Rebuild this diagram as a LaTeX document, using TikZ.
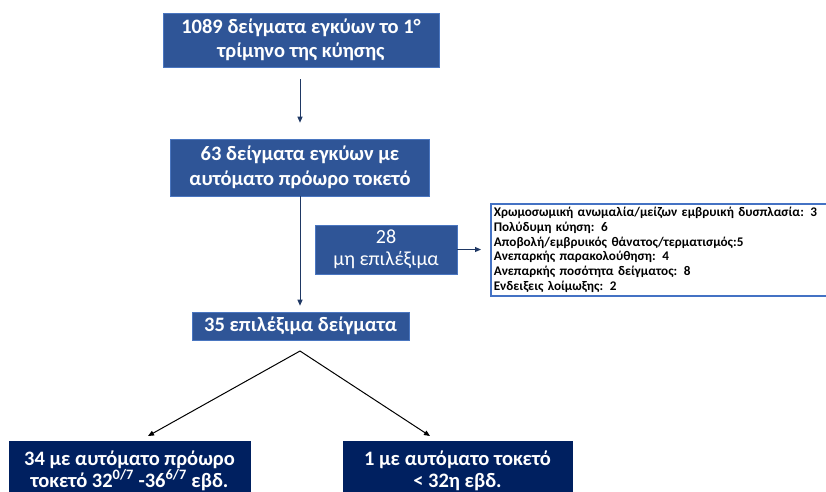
\documentclass[tikz,border=0pt]{standalone}
\usepackage{fontspec}
\setmainfont{Carlito}
\usepackage{xcolor}
\usepackage{tikz}
\usetikzlibrary{arrows.meta, positioning}

\definecolor{boxblue}{HTML}{2F5597}
\definecolor{boxedge}{HTML}{4A76C0}
\definecolor{darknavy}{HTML}{002060}
\definecolor{arrowblue}{HTML}{1F3864}
\definecolor{listedge}{HTML}{4472C4}

\tikzset{
	stage/.style={fill=boxblue, draw=boxedge, line width=0.6pt, text=white, align=center, inner sep=0pt,
		font=\bfseries\fontsize{20.5}{24.5}\selectfont},
	outcome/.style={stage, fill=darknavy, draw=darknavy},
	flow/.style={-{Triangle[length=6pt, width=5pt]}, line width=1pt, arrowblue},
	branch/.style={-{Triangle[length=6pt, width=5pt]}, line width=1pt, black}
}

\begin{document}
\begin{tikzpicture}[x=1pt, y=-1pt]
				\useasboundingbox (0,0) rectangle (826,491);
				% Boxes:
				\node[stage, minimum width=276pt, minimum height=54pt](samples) at (301,40){1089 δείγματα εγκύων το 1°\\τρίμηνο της κύησης};
				\node[stage, minimum width=259pt, minimum height=57pt](preterm) at (300,167.5){63 δείγματα εγκύων με\\αυτόματο πρόωρο τοκετό};
				\node[stage, minimum width=142pt, minimum height=49pt, font=\fontsize{20}{22}\selectfont](excluded) at (386,249.5){28\\μη επιλέξιμα};
				\node[draw=listedge, line width=1.5pt, fill=white, anchor=north west, text width=336pt, inner xsep=3pt, minimum height=86pt, align=left, font=\bfseries\fontsize{13.2}{14.8}\selectfont](reasons) at (490,203){Χρωμοσωμική ανωμαλία/μείζων εμβρυική δυσπλασία: 3\\Πολύδυμη κύηση: 6\\Αποβολή/εμβρυικός θάνατος/τερματισμός:5\\Ανεπαρκής παρακολούθηση: 4\\Ανεπαρκής ποσότητα δείγματος: 8\\Ενδειξεις λοίμωξης: 2};
				\node[stage, minimum width=217pt, minimum height=28pt](eligible) at (300.5,326){35 επιλέξιμα δείγματα};
				\node[outcome, minimum width=241pt, minimum height=58pt, font=\bfseries\fontsize{20.5}{22}\selectfont](late) at (129.5,470.5){34 με αυτόματο πρόωρο\\τοκετό 32\textsuperscript{0/7} -36\textsuperscript{6/7} εβδ.};
				\node[outcome, minimum width=229pt, minimum height=58pt, font=\bfseries\fontsize{20.5}{22}\selectfont](early) at (457.5,470.5){1 με αυτόματο τοκετό\\< 32η εβδ.};
				% Arrows:
				\coordinate (fork) at (300,351);
				\coordinate (tipL) at (148,436);
				\coordinate (tipR) at (430,436);
				\draw[flow] ([yshift=-12pt]samples.south -| preterm) -- ([yshift=16pt]preterm.north);
				\draw[flow] (preterm.south) -- ([yshift=6pt]eligible.north -| preterm);
				\draw[flow, shorten >=9pt] (excluded.east) -- (excluded.east -| reasons.west);
				\draw[branch] (fork) -- (tipL);
				\draw[branch] (fork) -- (tipR);
			\end{tikzpicture}
\end{document}
